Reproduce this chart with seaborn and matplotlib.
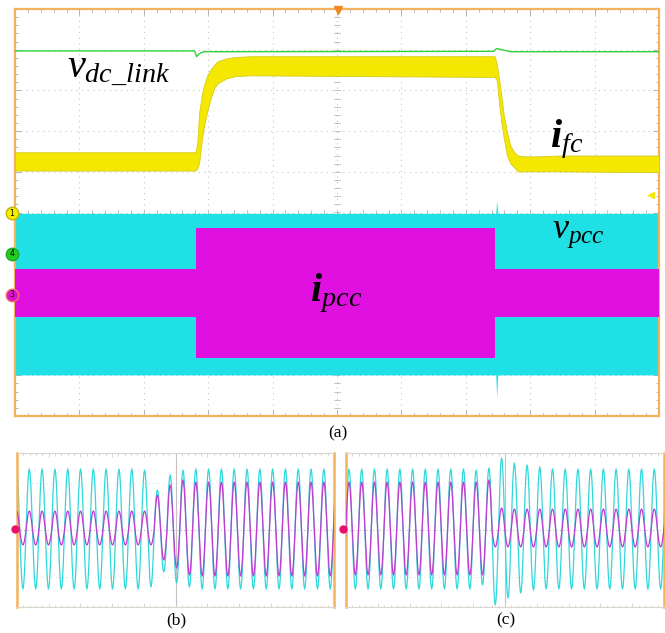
import numpy as np
import pandas as pd
import matplotlib.pyplot as plt
import seaborn as sns
from matplotlib.ticker import MultipleLocator

sns.set_style("white")
plt.rcParams['font.family'] = ['Liberation Serif', 'DejaVu Serif']
plt.rcParams['text.color'] = 'black'
plt.rcParams['mathtext.fontset'] = 'custom'
plt.rcParams['mathtext.rm'] = 'Liberation Serif'
plt.rcParams['mathtext.it'] = 'Liberation Serif:italic'
plt.rcParams['mathtext.bf'] = 'Liberation Serif:bold'
plt.rcParams['mathtext.bfit'] = 'Liberation Serif:italic:bold'

# ---- (a) long record, time and amplitude in scope divisions ----
vdc_t = [0, 2.79, 2.82, 2.86, 2.93, 7.43, 7.48, 7.58, 7.70, 10]
vdc_v = [3.97, 3.97, 3.83, 3.90, 3.95, 3.96, 4.03, 3.99, 3.95, 3.95]

ifc_t = [0, 2.80, 2.83, 2.86, 2.90, 2.93, 2.98, 3.03, 3.09, 3.15, 3.29, 3.42, 3.65,
         7.45, 7.48, 7.52, 7.56, 7.59, 7.64, 7.69, 7.75, 7.81, 7.90, 8.11, 8.46, 10]
ifc_hi = [1.48, 1.48, 1.70, 2.46, 2.88, 3.10, 3.35, 3.50, 3.62, 3.72, 3.79, 3.82, 3.84,
          3.84, 3.65, 3.25, 2.76, 2.39, 1.97, 1.65, 1.48, 1.40, 1.38, 1.38, 1.40, 1.40]
ifc_lo = [1.03, 1.03, 1.08, 1.23, 1.77, 2.07, 2.46, 2.76, 3.05, 3.18, 3.30, 3.35, 3.37,
          3.33, 3.25, 2.64, 2.14, 1.82, 1.40, 1.21, 1.11, 1.01, 1.01, 1.01, 1.01, 0.99]

vpcc_t = [0, 7.465, 7.48, 7.495, 10]
vpcc_hi = [-0.02, -0.02, 0.30, -0.02, -0.02]
vpcc_lo = [-3.99, -3.99, -4.55, -3.99, -3.99]

ipcc_t = [0, 2.81, 2.81, 7.46, 7.46, 10]
ipcc_hi = [-1.38, -1.38, -0.39, -0.39, -1.38, -1.38]
ipcc_lo = [-2.56, -2.56, -3.57, -3.57, -2.56, -2.56]

# ---- (b), (c) zoomed records: signed value of each half-cycle extremum ----
b_t0, b_half = -0.016, 0.202
b_cyan = [61, -59, 61, -59, 61, -59, 61, -59, 61, -59, 61, -59, 61, -59, 61, -59,
          61, -59, 61, -59, 60, -57, 40, -42, 55, -53, 60, -57, 61, -59, 61, -59,
          61, -59, 61, -59, 61, -59, 61, -59, 61, -59, 61, -59, 61, -59, 61, -59,
          61, -59, 61]
b_mag = [19, -15, 19, -15, 19, -15, 19, -15, 19, -15, 19, -15, 19, -15, 19, -15,
         19, -15, 19, -15, 19, -15, 35, -30, 45, -38, 50, -45, 48, -46, 48, -46,
         48, -46, 48, -46, 48, -46, 48, -46, 48, -46, 48, -46, 48, -46, 48, -46,
         48, -46, 48]

c_t0, c_half = -0.106, 0.200
c_cyan = [-59, 61, -59, 61, -59, 61, -59, 61, -59, 61, -59, 61, -59, 61, -59, 61,
          -59, 61, -59, 61, -59, 60, -55, 62, -75, 72, -68, 67, -63, 65, -60, 63,
          -59, 61, -59, 61, -59, 61, -59, 61, -59, 61, -59, 61, -59, 61, -59, 61,
          -59, 61, -59, 61]
c_mag = [-45, 48, -45, 48, -45, 48, -45, 48, -45, 48, -45, 48, -45, 48, -45, 48,
         -45, 48, -45, 48, -45, 48, -45, 50, -17, 22, -17, 21, -17, 21, -17, 21,
         -17, 21, -17, 21, -17, 21, -17, 21, -17, 21, -17, 21, -17, 21, -17, 21,
         -17, 21, -17, 21]

CYAN = '#1fe0e4'
MAG = '#e010e0'
YEL = '#f4e800'
GRN = '#2ed23a'
ORANGE = '#f2b25e'


def lobes(t0, half, peaks):
    # each extremum drawn as a half-sine lobe between its zero crossings
    ts, ys = [], []
    s = np.linspace(-0.5, 0.5, 11)
    for k, a in enumerate(peaks):
        ts.extend(t0 + k * half + s * half)
        ys.extend(a * np.cos(np.pi * s))
    return ts, ys


fig = plt.figure(figsize=(6.65, 6.33), dpi=100)
axa = fig.add_axes([15 / 665, 1 - 416 / 633, 644 / 665, 407 / 633])
axb = fig.add_axes([17 / 665, 1 - 607 / 633, 317 / 665, 154 / 633])
axc = fig.add_axes([346 / 665, 1 - 607 / 633, 318 / 665, 154 / 633])

# ---------- panel (a) ----------
axa.set_xlim(0, 10)
axa.set_ylim(-5, 5)
for v in range(1, 10):
    axa.axvline(v, color='#c4c4c4', lw=0.8, ls=(0, (1, 4)), zorder=0)
    axa.axhline(v - 5, color='#c4c4c4', lw=0.8, ls=(0, (1, 4)), zorder=0)
for m in np.arange(0.2, 10, 0.2):
    axa.plot([5 - 0.04, 5 + 0.04], [m - 5, m - 5], color='#b8b8b8', lw=0.6, zorder=0)
    axa.plot([m, m], [-0.06, 0.06], color='#b8b8b8', lw=0.6, zorder=0)

axa.fill_between(vpcc_t, vpcc_lo, vpcc_hi, color=CYAN, lw=0, zorder=2)
axa.fill_between(ipcc_t, ipcc_lo, ipcc_hi, color=MAG, lw=0, zorder=3)
axa.fill_between(ifc_t, ifc_lo, ifc_hi, facecolor=YEL, edgecolor='#d6cb1c', lw=0.6, zorder=3)
sns.lineplot(x=vdc_t, y=vdc_v, ax=axa, color=GRN, lw=1.0, estimator=None, sort=False, zorder=4)

axa.xaxis.set_major_locator(MultipleLocator(1))
axa.xaxis.set_minor_locator(MultipleLocator(0.2))
axa.yaxis.set_major_locator(MultipleLocator(1))
axa.yaxis.set_minor_locator(MultipleLocator(0.2))
axa.tick_params(which='both', direction='in', top=True, right=True, bottom=True, left=True,
                labelbottom=False, labelleft=False, color='#a8a8a8', width=0.6)
axa.tick_params(which='major', length=4)
axa.tick_params(which='minor', length=2.5)
for sp in axa.spines.values():
    sp.set_color(ORANGE)
    sp.set_linewidth(1.6)

# channel markers and trigger marker
for y, fc, ec, lab in [(-0.02, '#f4f000', '#c8b400', '1'), (-1.01, '#22cc22', '#22aa22', '4'),
                       (-2.02, '#e010d0', '#f07070', '3')]:
    axa.plot(-0.05, y, 'o', ms=9, mfc=fc, mec=ec, mew=1.0, clip_on=False, zorder=6)
    axa.text(-0.05, y, lab, fontsize=5.5, ha='center', va='center', family='DejaVu Sans',
             clip_on=False, zorder=7)
axa.plot(5.02, 4.97, 'v', ms=6, color='#f08a20', clip_on=False, zorder=6)
axa.plot(9.88, 0.42, '<', ms=4, color='#f4e800', zorder=6)

axa.text(0.81, 3.33, r'$v_{dc\_link}$', fontsize=29, ha='left', va='baseline', color='black', zorder=8)
axa.text(8.31, 1.60, r'$\mathbfit{i}_{fc}$', fontsize=29, ha='left', va='baseline', color='black', zorder=8)
axa.text(8.34, -0.62, r'$v_{pcc}$', fontsize=26, ha='left', va='baseline', color='black', zorder=8)
axa.text(4.58, -2.17, r'$\mathbfit{i}_{pcc}$', fontsize=29, ha='left', va='baseline', color='black', zorder=8)

# ---------- panels (b), (c) ----------
for ax, t0, half, cy, mg, dot_x in [(axb, b_t0, b_half, b_cyan, b_mag, -0.06),
                                    (axc, c_t0, c_half, c_cyan, c_mag, -0.09)]:
    ax.set_xlim(0, 10)
    ax.set_ylim(-77, 77)
    ax.axhline(0, color='#c9b8b8', lw=0.8, ls=(0, (1, 2)), zorder=0)
    for y in (-46.7, 46.7):
        ax.axhline(y, color='#dcdcdc', lw=0.7, ls=(0, (1, 4)), zorder=0)
    ax.axvline(5.0, color='#c8c0c0', lw=0.8, zorder=0)
    tc, yc = lobes(t0, half, cy)
    tm, ym = lobes(t0, half, mg)
    sns.lineplot(x=tc, y=yc, ax=ax, color='#30d8dc', lw=0.9, estimator=None, sort=False, zorder=2)
    sns.lineplot(x=tm, y=ym, ax=ax, color='#c03cd0', lw=0.9, estimator=None, sort=False, zorder=3)
    ax.plot(dot_x, 1, 'o', ms=5, color='#e8106a', clip_on=False, zorder=5)
    ax.xaxis.set_minor_locator(MultipleLocator(0.2))
    ax.xaxis.set_major_locator(MultipleLocator(1))
    ax.set_yticks([])
    ax.tick_params(which='both', direction='in', top=True, bottom=True, left=False, right=False,
                   labelbottom=False, color='#c8c8c8', width=0.5)
    ax.tick_params(which='major', length=3)
    ax.tick_params(which='minor', length=1.8)
    ax.spines['left'].set_color(ORANGE)
    ax.spines['right'].set_color(ORANGE)
    ax.spines['left'].set_linewidth(1.8)
    ax.spines['right'].set_linewidth(1.8)
    ax.spines['top'].set_color('#dcd6cc')
    ax.spines['bottom'].set_color('#dcd6cc')
    ax.spines['top'].set_linewidth(0.8)
    ax.spines['bottom'].set_linewidth(0.8)

fig.text(338 / 665, 1 - 433 / 633, '(a)', fontsize=12.5, ha='center', va='center', color='black')
fig.text(176 / 665, 1 - 620 / 633, '(b)', fontsize=12.5, ha='center', va='center', color='black')
fig.text(506 / 665, 1 - 620 / 633, '(c)', fontsize=12.5, ha='center', va='center', color='black')

fig.savefig('out.png', dpi=100, facecolor='white')
